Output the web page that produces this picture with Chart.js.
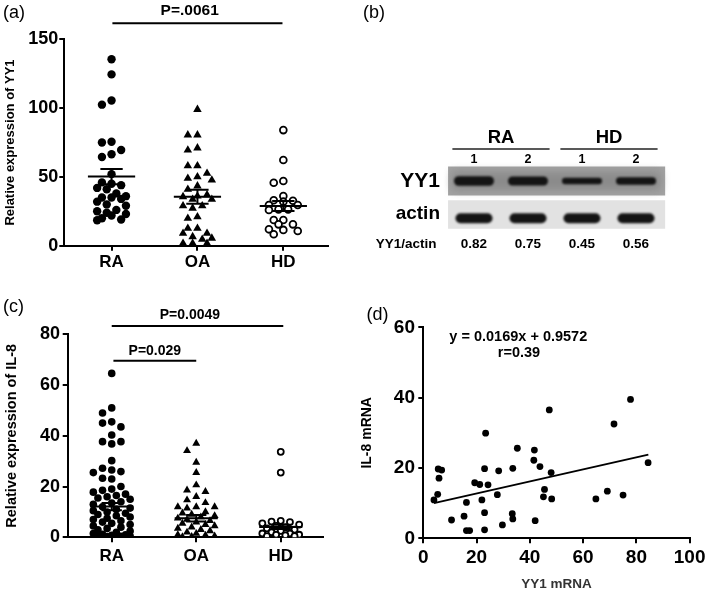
<!DOCTYPE html>
<html><head><meta charset="utf-8"><title>YY1 and IL-8 expression</title>
<script src="https://cdn.jsdelivr.net/npm/chart.js@4.4.1/dist/chart.umd.min.js"></script>
<style>
html,body{margin:0;padding:0;background:#fff;}
#fig{position:relative;width:709px;height:598px;overflow:hidden;background:#fff;}
#fig canvas{position:absolute;}
</style></head><body>
<div id="fig">
<canvas id="pa" width="350" height="290" style="left:0;top:0"></canvas>
<canvas id="pb" width="359" height="290" style="left:350px;top:0"></canvas>
<canvas id="pc" width="350" height="308" style="left:0;top:290px"></canvas>
<canvas id="pd" width="359" height="308" style="left:350px;top:290px"></canvas>
</div>
<script>
// ================= DATA =================
const groups = ['RA', 'OA', 'HD'];

// (a) relative expression of YY1
const yy1RA = [135.5,124.5,105.5,102.5,75.5,75,69.5,66.5,64.5,52,46,45,44,42,41,38,36,35,35,34,32,30,29,26,25,24,23,22,20,19,18.5];
const yy1OA = [99,80.5,80.5,71,69.5,58,58,52.6,50,49,47.7,43.4,41,37,36,35.6,33.7,33.7,29,29,27.2,21,19.9,12.6,12.6,9,9,6.5,5.4,4.6,1.7,1.7,1.7];
const yy1HD = [84,62.3,47,45.8,36.1,33,32.7,32,29.6,29.6,26.4,26.4,26,18.7,18.7,15.5,15.5,11.9,11.5,10.7,8.3];
const yy1Mean = [50.2, 35.6, 28.9];
const yy1Sem = [5.5, 5.1, 3.6];
const yy1Ticks = [0, 50, 100, 150];
const yy1PLabels = ['P=.0061'];

// (c) relative expression of IL-8
const il8RA = [64.6,51,49,45.5,45,43.5,40.3,37.7,37.7,36.8,30.2,27.2,26.5,25.9,25.5,23.3,23,20,19,18.5,17.8,17,16.5,16,15.5,15,14,13.5,13,12,11.5,11,10.5,10,9.5,9,8.5,8,7.5,7,6.5,6,5.5,5,4.5,4,3.5,3,2.5,2,1.5,1.2,1,0.8,0.6,0.5,0.4,0.3,0.2];
const il8OA = [37,34.1,29.5,25.5,20.6,18.6,18,16,14.7,13.6,12,12,12,11.5,10,9.5,9,8.5,8,7.5,7,6.5,6,5.5,5,4.5,4,3.5,3,2.5,2,1.5,1,0.8,0.5,0.3,0.2];
const il8HD = [33.7,25.5,6.5,6.2,6,5.5,5,4.5,4,3.5,3,2.5,2,1.5,1.5,1,1,0.8,0.5,0.5];
const il8Mean = [12.1, 7.5, 4.1];
const il8Sem = [1.4, 1.3, 0.8];
const il8Ticks = [0, 20, 40, 60, 80];
const il8PLabels = ['P=0.0049', 'P=0.029'];

// (b) western blot
const blotGroups = ['RA', 'HD'];
const blotLanes = ['1', '2', '1', '2'];
const blotLaneGroup = [0, 0, 1, 1];
const blotRatio = [0.82, 0.75, 0.45, 0.56];

// (d) correlation
const corrYY1 = [4.0,5.4,5.9,5.6,6.9,10.6,15.3,16.2,16.2,17.4,19.3,21.2,22.0,23.0,23.0,23.4,23.0,24.3,27.8,28.3,29.7,33.6,33.4,33.6,35.3,41.7,41.5,43.8,42.0,45.5,45.1,48.0,48.2,47.3,64.8,69.1,75.0,71.6,77.8,84.4];
const corrIL8 = [10.9,12.5,17.1,19.7,19.4,5.2,6.3,10.2,2.2,2.2,15.8,15.3,10.9,7.3,2.4,29.9,19.8,15.2,12.4,19.2,3.8,19.9,7.0,5.5,25.6,25.1,22.2,20.4,5.0,13.9,11.8,18.7,11.2,36.5,11.2,13.4,12.3,32.5,39.5,21.5];
const fitX = [4, 84.5];
const fitY = [10.0, 23.8];
const fitEquation = 'y = 0.0169x + 0.9572';
const fitR = 'r=0.39';
const corrXTicks = [0, 20, 40, 60, 80, 100];
const corrYTicks = [0, 20, 40, 60];

// ================= HELPERS =================
const F = "'Liberation Sans', Arial, Helvetica, sans-serif";
Chart.defaults.font.family = F;
Chart.defaults.color = '#000';
const font = (s, b) => (b ? 'bold ' : '') + s + 'px ' + F;

const textPlugin = {
  id: 'txt',
  afterDraw(chart, args, opts) {
    const ctx = chart.ctx, xs = chart.scales.x, ys = chart.scales.y;
    ctx.save();
    for (const t of (opts.items || [])) {
      ctx.font = t.font; ctx.fillStyle = t.color || '#000';
      ctx.textAlign = t.align || 'center'; ctx.textBaseline = 'middle';
      const x = t.px ? t.x : xs.getPixelForValue(t.x);
      const y = t.py ? t.y : ys.getPixelForValue(t.y);
      ctx.fillText(t.text, x, y);
    }
    ctx.restore();
  }
};
const blurPlugin = {
  id: 'blur',
  beforeDatasetDraw(chart, args) { if (chart.data.datasets[args.index].blur) chart.ctx.filter = 'blur(' + chart.data.datasets[args.index].blur + 'px)'; },
  afterDatasetDraw(chart) { chart.ctx.filter = 'none'; }
};

function axis(o) {
  return {
    type: 'linear', min: o.min, max: o.max, position: o.pos, display: true,
    afterBuildTicks: s => { s.ticks = o.ticks.map(v => ({ value: v })); },
    afterFit: s => { if (o.w != null) s.width = o.w; if (o.h != null) s.height = o.h; },
    border: { display: true, color: '#000', width: 2 },
    grid: { display: true, drawOnChartArea: false, drawTicks: true, tickLength: o.tl || 5, color: '#000', lineWidth: 2 },
    ticks: { color: '#000', padding: o.pad, font: { size: o.fs, weight: 'bold' }, autoSkip: false, maxRotation: 0,
             callback: o.cb || (v => String(v)) },
    title: o.title ? { display: true, text: o.title, color: o.tc || '#000', font: { size: o.tfs, weight: 'bold' }, padding: o.tpad || { top: 4, bottom: 4 } } : { display: false }
  };
}

function lineDs(x1, y1, x2, y2, w, color, extra) {
  return Object.assign({ type: 'scatter', data: [{ x: x1, y: y1 }, { x: x2, y: y2 }], showLine: true, borderColor: color, backgroundColor: color,
    borderWidth: w, pointRadius: 0, pointHoverRadius: 0, order: 0 }, extra || {});
}

// beeswarm layout computed from the scales
function swarm(chart, center, vals, diam, cands) {
  const xs = chart.scales.x, ys = chart.scales.y;
  const cx = xs.getPixelForValue(center);
  const placed = [];
  const order = vals.map((v, i) => i).sort((a, b) => vals[b] - vals[a]);
  const res = new Array(vals.length);
  order.forEach(i => {
    const py = ys.getPixelForValue(vals[i]);
    let best = cx, bestD = -1;
    for (const k of cands) {
      const px = cx + k * diam;
      let dmin = Infinity;
      for (const p of placed) { const d = Math.hypot(p[0] - px, p[1] - py); if (d < dmin) dmin = d; }
      if (dmin >= diam * 0.92) { best = px; break; }
      if (dmin > bestD) { bestD = dmin; best = px; }
    }
    placed.push([best, py]);
    res[i] = { x: xs.getValueForPixel(best), y: vals[i] };
  });
  return res;
}

function dotPanel(id, c) {
  const cv = document.getElementById(id);
  const W = cv.width, H = cv.height;
  const ds = [];
  c.means.forEach((m, i) => {
    const x = i + 1, s = c.sems[i];
    ds.push(lineDs(x - c.mw, m, x + c.mw, m, 2, '#000'));
    ds.push(lineDs(x, m - s, x, m + s, 2, '#000'));
    ds.push(lineDs(x - c.cw, m + s, x + c.cw, m + s, 2, '#000'));
    ds.push(lineDs(x - c.cw, m - s, x + c.cw, m - s, 2, '#000'));
  });
  c.pbars.forEach(b => ds.push(lineDs(b.from, b.level, b.to, b.level, 2, '#000', { clip: false })));
  const nFixed = ds.length;
  const sty = [
    { ps: 'circle', r: c.r, bg: '#000', bw: 0 },
    { ps: 'triangle', r: c.rt, bg: '#000', bw: 0 },
    { ps: 'circle', r: c.ro, bg: '#fff', bw: 1.8 }
  ];
  c.series.forEach((vals, i) => {
    ds.push({ type: 'scatter', data: vals.map(v => ({ x: i + 1, y: v })), pointStyle: sty[i].ps, pointRadius: sty[i].r, pointHoverRadius: sty[i].r,
      backgroundColor: sty[i].bg, borderColor: '#000', borderWidth: sty[i].bw, showLine: false, order: 1 });
  });
  const items = [{ text: c.label, x: c.labelPos[0], y: c.labelPos[1], px: true, py: true, align: 'left', font: font(18, false) }];
  c.pbars.forEach(b => items.push({ text: b.text, x: (b.from + b.to) / 2 + b.dx, y: b.level + b.dy, font: font(b.fs, true) }));
  const chart = new Chart(cv, {
    type: 'scatter',
    data: { datasets: ds },
    options: {
      responsive: false, animation: false, events: [],
      layout: { padding: { left: 0, top: c.top, right: W - c.right, bottom: 0 } },
      plugins: { legend: { display: false }, tooltip: { enabled: false }, txt: { items } },
      scales: {
        x: axis({ min: c.xmin, max: c.xmax, pos: 'bottom', ticks: [1, 2, 3], cb: v => groups[v - 1] || '', fs: c.xfs, pad: c.xpad, h: H - c.bottom, tl: 5 }),
        y: axis({ min: 0, max: c.ymax, pos: 'left', ticks: c.yticks, fs: 18, pad: c.ypad, w: c.left, title: c.title, tfs: c.tfs, tpad: { top: c.tpadTop, bottom: 4 } })
      }
    },
    plugins: [textPlugin]
  });
  c.series.forEach((vals, i) => { chart.data.datasets[nFixed + i].data = swarm(chart, i + 1, vals, c.diam, c.cands); });
  chart.update('none');
  return chart;
}

// ================= (a) =================
dotPanel('pa', {
  series: [yy1RA, yy1OA, yy1HD], means: yy1Mean, sems: yy1Sem,
  left: 64.3, top: 39.3, right: 328, bottom: 245.7,
  xmin: 0.45, xmax: 3.52, ymax: 150, yticks: yy1Ticks,
  mw: 0.275, cw: 0.13, r: 4.2, rt: 4.9, ro: 3.4, diam: 9.6, cands: [0, -1, 1, -0.5, 0.5, -1.5, 1.5],
  xfs: 17, xpad: 1.5, ypad: 1, title: 'Relative expression of YY1', tfs: 13, tpadTop: 3,
  label: '(a)', labelPos: [3, 13.5],
  pbars: [{ text: yy1PLabels[0], from: 1.01, to: 2.99, level: 161.7, dx: -0.09, dy: 9, fs: 15.5 }]
});

// ================= (c) =================
dotPanel('pc', {
  series: [il8RA, il8OA, il8HD], means: il8Mean, sems: il8Sem,
  left: 67.7, top: 44.3, right: 323, bottom: 247.3,
  xmin: 0.479, xmax: 3.5, ymax: 80, yticks: il8Ticks,
  mw: 0.255, cw: 0.12, r: 3.8, rt: 4.6, ro: 3.0, diam: 9.2, cands: [0, -1, 1, -0.5, 0.5, -1.5, 1.5, -2, 2],
  xfs: 17, xpad: 4, ypad: 2.7, title: 'Relative expression of IL-8', tfs: 14.5, tpadTop: 3,
  label: '(c)', labelPos: [3, 16.7],
  pbars: [
    { text: il8PLabels[0], from: 1.0, to: 3.03, level: 83.3, dx: -0.09, dy: 4.3, fs: 14 },
    { text: il8PLabels[1], from: 1.02, to: 2.0, level: 69.6, dx: 0, dy: 3.6, fs: 14 }
  ]
});

// ================= (b) western blot =================
(function () {
  const cv = document.getElementById('pb');
  const ROW = { glabel: 137.7, gline: 149, lane: 159.5, yy1: 181, actin: 214.5, ratio: 244.5 };
  const lanes = blotLanes.map((_, i) => i + 1);
  const ds = [];
  ds.push(lineDs(0.52, ROW.yy1, 4.54, ROW.yy1, 29, '#a2a2a2', { order: 5, clip: false }));
  ds.push(lineDs(0.52, ROW.actin, 4.54, ROW.actin, 28.5, '#e2e2e2', { order: 5, clip: false }));
  // darker smear around YY1 bands
  ds.push(lineDs(0.6, ROW.yy1, 4.45, ROW.yy1, 18, '#8a8a8a', { order: 4, clip: false, blur: 4 }));
  blotGroups.forEach((g, gi) => {
    const ls = lanes.filter((l, i) => blotLaneGroup[i] === gi);
    ds.push(lineDs(ls[0] - 0.4, ROW.gline, ls[ls.length - 1] + 0.4, ROW.gline, 1.5, '#222', { order: 1, clip: false }));
  });
  blotRatio.forEach((r, i) => {
    const t = 3 + 8 * r, half = (20 - t / 2) / 54;
    ds.push(lineDs(lanes[i] - half, ROW.yy1, lanes[i] + half, ROW.yy1, t, '#141414', { order: 2, clip: false, borderCapStyle: 'round', blur: 1.2 }));
    ds.push(lineDs(lanes[i] - 0.25, ROW.actin + 3.8, lanes[i] + 0.25, ROW.actin + 3.8, 10, '#141414', { order: 2, clip: false, borderCapStyle: 'round', blur: 1 }));
  });
  const items = [{ text: '(b)', x: 13, y: 13.5, px: true, py: true, align: 'left', font: font(18, false) }];
  blotGroups.forEach((g, gi) => {
    const ls = lanes.filter((l, i) => blotLaneGroup[i] === gi);
    items.push({ text: g, x: (ls[0] + ls[ls.length - 1]) / 2, y: ROW.glabel, font: font(18.5, true) });
  });
  blotLanes.forEach((n, i) => items.push({ text: n, x: lanes[i], y: ROW.lane, font: font(12.5, true) }));
  blotRatio.forEach((r, i) => items.push({ text: r.toFixed(2), x: lanes[i], y: ROW.ratio, font: font(13.5, true) }));
  items.push({ text: 'YY1', x: 90, y: ROW.yy1, px: true, align: 'right', font: font(21, true) });
  items.push({ text: 'actin', x: 90, y: ROW.actin - 1, px: true, align: 'right', font: font(19, true) });
  items.push({ text: 'YY1/actin', x: 86.5, y: ROW.ratio, px: true, align: 'right', font: font(13.5, true) });
  new Chart(cv, {
    type: 'scatter',
    data: { datasets: ds },
    options: {
      responsive: false, animation: false, events: [],
      layout: { padding: 0 },
      plugins: { legend: { display: false }, tooltip: { enabled: false }, txt: { items } },
      scales: {
        x: { type: 'linear', min: -1.296, max: 5.352, display: false },
        y: { type: 'linear', min: 0, max: 290, reverse: true, display: false }
      }
    },
    plugins: [textPlugin, blurPlugin]
  });
})();

// ================= (d) =================
(function () {
  const cv = document.getElementById('pd');
  const W = cv.width, H = cv.height;
  const left = 73.3, top = 37.3, right = 341, bottom = 248.3;
  const ds = [
    lineDs(fitX[0], fitY[0], fitX[1], fitY[1], 2, '#000', { order: 0 }),
    { type: 'scatter', data: corrYY1.map((x, i) => ({ x, y: corrIL8[i] })), pointStyle: 'circle', pointRadius: 3.4, pointHoverRadius: 3.4,
      backgroundColor: '#000', borderWidth: 0, order: 1 }
  ];
  const items = [
    { text: '(d)', x: 16.5, y: 25, px: true, py: true, align: 'left', font: font(18, false) },
    { text: fitEquation, x: 168.3, y: 46.7, px: true, py: true, font: font(14.5, true) },
    { text: fitR, x: 169, y: 63.3, px: true, py: true, font: font(14.5, true) }
  ];
  new Chart(cv, {
    type: 'scatter',
    data: { datasets: ds },
    options: {
      responsive: false, animation: false, events: [],
      layout: { padding: { left: 0, top: top, right: W - right, bottom: 0 } },
      plugins: { legend: { display: false }, tooltip: { enabled: false }, txt: { items } },
      scales: {
        x: axis({ min: 0, max: 100, pos: 'bottom', ticks: corrXTicks, fs: 19, pad: 3.5, h: H - bottom, title: 'YY1 mRNA', tfs: 13.5, tc: '#333', tpad: { top: 4, bottom: 6 } }),
        y: axis({ min: 0, max: 60, pos: 'left', ticks: corrYTicks, fs: 19, pad: 3.3, w: left, title: 'IL-8 mRNA', tfs: 14, tpad: { top: 9, bottom: 4 } })
      }
    },
    plugins: [textPlugin]
  });
})();
</script>
</body></html>
